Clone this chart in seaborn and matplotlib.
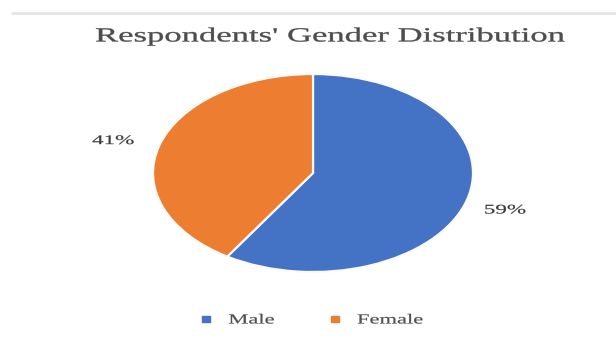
import matplotlib
matplotlib.use("Agg")
import matplotlib.pyplot as plt
from matplotlib.lines import Line2D
from matplotlib.path import Path
from matplotlib.patheffects import AbstractPathEffect
from matplotlib.transforms import Affine2D
import numpy as np
import seaborn as sns

# Survey breakdown by gender (percent)
categories = ["Male", "Female"]
shares = [59, 41]
colors = ["#4472C4", "#ED7D31"]
title = "Respondents' Gender Distribution"


class WideText(AbstractPathEffect):
    """Draw a text's glyph outline widened horizontally about its centre or left edge,
    with an optional thin outline stroke for a heavier look."""

    def __init__(self, sx, anchor="center", weight=0.0):
        super().__init__()
        self.sx = sx
        self.anchor = anchor
        self.weight = weight

    def draw_path(self, renderer, gc, tpath, affine, rgbFace=None):
        ext = tpath.get_extents(affine)
        cx = ext.x0 if self.anchor == "left" else 0.5 * (ext.x0 + ext.x1)
        stretch = Affine2D().translate(-cx, 0).scale(self.sx, 1).translate(cx, 0)
        gc0 = renderer.new_gc()
        gc0.copy_properties(gc)
        if self.weight > 0 and rgbFace is not None:
            gc0.set_linewidth(self.weight)
            gc0.set_foreground(rgbFace)
        renderer.draw_path(gc0, tpath, affine + stretch, rgbFace)
        gc0.restore()


sns.set_theme(style="white")
plt.rcParams["font.family"] = ["Liberation Serif", "DejaVu Serif"]

W, H = 616, 344
fig = plt.figure(figsize=(W / 100, H / 100), dpi=100)
fig.patch.set_facecolor("white")

# faint frame edge along the top of the chart area
fig.add_artist(Line2D([12 / W, 1.0], [1 - 13 / H, 1 - 13 / H],
                      transform=fig.transFigure, color="#e6e6e6", lw=2.0))

# the pie is an ellipse (wider than tall), so use an auto-aspect axes
left, right, top, bottom = 153, 473, 74, 272
ax = fig.add_axes([left / W, 1 - bottom / H, (right - left) / W, (bottom - top) / H])
wedges, _ = ax.pie(shares, colors=colors, startangle=90, counterclock=False,
                   wedgeprops=dict(edgecolor="#fbfbfb", linewidth=1.6))
ax.set_aspect("auto")
ax.set_xlim(-1, 1)
ax.set_ylim(-1, 1)
ax.axis("off")

# percentage labels outside each wedge
label_dist = [1.25, 1.3]
label_dy = [-0.03, -0.04]
for w, val, d, dy in zip(wedges, shares, label_dist, label_dy):
    ang = np.deg2rad((w.theta1 + w.theta2) / 2)
    ax.text(d * np.cos(ang), d * np.sin(ang) + dy, f"{val}%",
            ha="center", va="center", fontsize=9.5, color="#3a3a3a",
            path_effects=[WideText(1.75, weight=0.15)])

fig.text(330 / W, 1 - 37 / H, title, ha="center", va="center",
         fontsize=14.5, color="#4d4d4d", path_effects=[WideText(1.72, weight=0.25)])

# flat rectangular legend keys
key = Path([(-1.6, -1), (1.6, -1), (1.6, 1), (-1.6, 1), (-1.6, -1)],
           [Path.MOVETO, Path.LINETO, Path.LINETO, Path.LINETO, Path.CLOSEPOLY])
handles = [Line2D([], [], marker=key, linestyle="none", markersize=6,
                  markerfacecolor=c, markeredgecolor=c) for c in colors]
leg = fig.legend(handles, categories, loc="center left",
                 bbox_to_anchor=(180 / W, 1 - 320 / H), ncol=2, frameon=False,
                 fontsize=10, handletextpad=0.6, columnspacing=4.6,
                 labelcolor="#505050")
for t in leg.get_texts():
    t.set_path_effects([WideText(1.62, anchor="left", weight=0.15)])

fig.savefig("out.png", dpi=100)
